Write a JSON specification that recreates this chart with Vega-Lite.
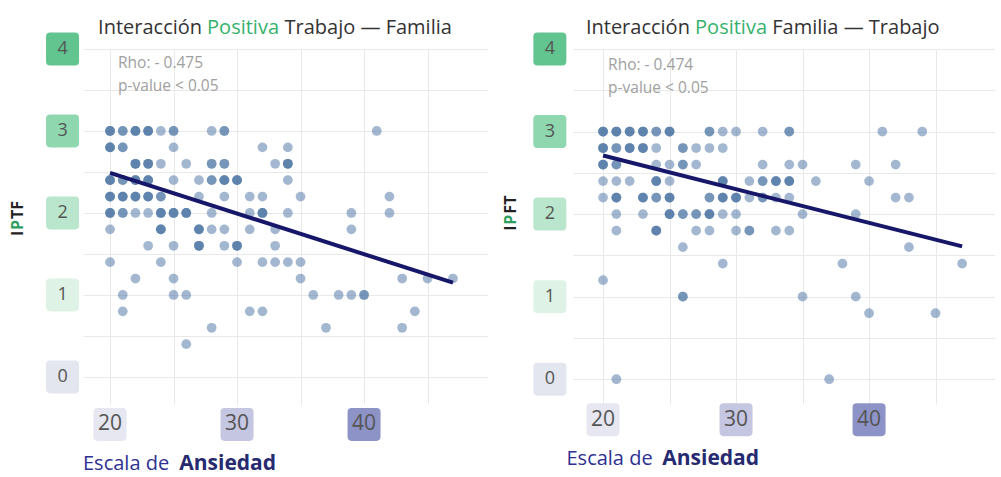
{
  "$schema": "https://vega.github.io/schema/vega-lite/v6.json",
  "background": "white",
  "padding": {"left": 10, "top": 17, "right": 0, "bottom": 10},
  "bounds": "flush",
  "spacing": 85,
  "config": {
    "view": {"stroke": null},
    "font": "Open Sans",
    "axis": {"gridColor": "#e9e9e9", "gridWidth": 1, "labels": false, "ticks": false, "domain": false, "grid": true}
  },
  "hconcat": [
    {
      "width": 405,
      "height": 355,
      "layer": [
        {
          "data": {"values": [
            {"x":20,"y":3},{"x":20,"y":3},{"x":20,"y":3},{"x":21,"y":3},{"x":21,"y":3},{"x":22,"y":3},{"x":22,"y":3},{"x":22,"y":3},{"x":23,"y":3},{"x":23,"y":3},{"x":23,"y":3},{"x":24,"y":3},{"x":25,"y":3},{"x":25,"y":3},{"x":28,"y":3},{"x":29,"y":3},{"x":29,"y":3},{"x":41,"y":3},
            {"x":20,"y":2.8},{"x":20,"y":2.8},{"x":20,"y":2.8},{"x":21,"y":2.8},{"x":21,"y":2.8},{"x":25,"y":2.8},{"x":32,"y":2.8},{"x":34,"y":2.8},
            {"x":22,"y":2.6},{"x":22,"y":2.6},{"x":22,"y":2.6},{"x":23,"y":2.6},{"x":23,"y":2.6},{"x":23,"y":2.6},{"x":24,"y":2.6},{"x":26,"y":2.6},{"x":28,"y":2.6},{"x":28,"y":2.6},{"x":29,"y":2.6},{"x":29,"y":2.6},{"x":33,"y":2.6},{"x":34,"y":2.6},{"x":34,"y":2.6},{"x":34,"y":2.6},
            {"x":20,"y":2.4},{"x":20,"y":2.4},{"x":20,"y":2.4},{"x":21,"y":2.4},{"x":21,"y":2.4},{"x":22,"y":2.4},{"x":22,"y":2.4},{"x":22,"y":2.4},{"x":23,"y":2.4},{"x":23,"y":2.4},{"x":23,"y":2.4},{"x":25,"y":2.4},{"x":27,"y":2.4},{"x":28,"y":2.4},{"x":28,"y":2.4},{"x":29,"y":2.4},{"x":29,"y":2.4},{"x":29,"y":2.4},{"x":30,"y":2.4},{"x":30,"y":2.4},{"x":30,"y":2.4},{"x":34,"y":2.4},
            {"x":20,"y":2.2},{"x":20,"y":2.2},{"x":20,"y":2.2},{"x":21,"y":2.2},{"x":21,"y":2.2},{"x":21,"y":2.2},{"x":22,"y":2.2},{"x":22,"y":2.2},{"x":22,"y":2.2},{"x":23,"y":2.2},{"x":23,"y":2.2},{"x":23,"y":2.2},{"x":24,"y":2.2},{"x":24,"y":2.2},{"x":27,"y":2.2},{"x":29,"y":2.2},{"x":31,"y":2.2},{"x":32,"y":2.2},{"x":35,"y":2.2},{"x":42,"y":2.2},
            {"x":20,"y":2},{"x":20,"y":2},{"x":20,"y":2},{"x":21,"y":2},{"x":21,"y":2},{"x":22,"y":2},{"x":23,"y":2},{"x":24,"y":2},{"x":24,"y":2},{"x":24,"y":2},{"x":25,"y":2},{"x":25,"y":2},{"x":25,"y":2},{"x":26,"y":2},{"x":26,"y":2},{"x":26,"y":2},{"x":28,"y":2},{"x":31,"y":2},{"x":32,"y":2},{"x":32,"y":2},{"x":32,"y":2},{"x":34,"y":2},{"x":39,"y":2},{"x":42,"y":2},
            {"x":20,"y":1.8},{"x":24,"y":1.8},{"x":24,"y":1.8},{"x":24,"y":1.8},{"x":27,"y":1.8},{"x":27,"y":1.8},{"x":27,"y":1.8},{"x":28,"y":1.8},{"x":29,"y":1.8},{"x":31,"y":1.8},{"x":33,"y":1.8},{"x":39,"y":1.8},
            {"x":23,"y":1.6},{"x":25,"y":1.6},{"x":27,"y":1.6},{"x":27,"y":1.6},{"x":27,"y":1.6},{"x":29,"y":1.6},{"x":30,"y":1.6},{"x":30,"y":1.6},{"x":30,"y":1.6},{"x":33,"y":1.6},
            {"x":20,"y":1.4},{"x":24,"y":1.4},{"x":30,"y":1.4},{"x":32,"y":1.4},{"x":33,"y":1.4},{"x":34,"y":1.4},{"x":35,"y":1.4},
            {"x":22,"y":1.2},{"x":25,"y":1.2},{"x":35,"y":1.2},{"x":43,"y":1.2},{"x":45,"y":1.2},{"x":47,"y":1.2},
            {"x":21,"y":1},{"x":25,"y":1},{"x":26,"y":1},{"x":36,"y":1},{"x":38,"y":1},{"x":39,"y":1},{"x":40,"y":1},{"x":40,"y":1},
            {"x":21,"y":0.8},{"x":31,"y":0.8},{"x":32,"y":0.8},{"x":44,"y":0.8},
            {"x":28,"y":0.6},{"x":37,"y":0.6},{"x":43,"y":0.6},
            {"x":26,"y":0.4}
          ]},
          "mark": {"type": "circle", "size": 95, "color": "#4771a1", "opacity": 0.5},
          "encoding": {
            "x": {"field": "x", "type": "quantitative", "scale": {"domain": [17.87, 49.76], "nice": false, "zero": false},
                  "axis": {"values": [20, 25, 30, 35, 40, 45], "title": null}},
            "y": {"field": "y", "type": "quantitative", "scale": {"domain": [-0.33, 4.0], "nice": false, "zero": false},
                  "axis": {"values": [0, 0.5, 1, 1.5, 2, 2.5, 3, 3.5, 4], "title": null}}
          }
        },
        {
          "data": {"values": [{"x": 20, "y": 2.49}, {"x": 47, "y": 1.15}]},
          "mark": {"type": "line", "color": "#17176a", "strokeWidth": 4},
          "encoding": {
            "x": {"field": "x", "type": "quantitative", "axis": {"values": [20, 25, 30, 35, 40, 45], "title": null}},
            "y": {"field": "y", "type": "quantitative", "axis": {"values": [0, 0.5, 1, 1.5, 2, 2.5, 3, 3.5, 4], "title": null}}
          }
        },
        {
          "data": {"values": [{"v": 0}, {"v": 1}, {"v": 2}, {"v": 3}, {"v": 4}]},
          "mark": {"type": "point", "shape": "M -0.75 -1 L 0.75 -1 Q 1 -1 1 -0.75 L 1 0.75 Q 1 1 0.75 1 L -0.75 1 Q -1 1 -1 0.75 L -1 -0.75 Q -1 -1 -0.75 -1 Z", "size": 1089, "filled": true, "opacity": 1, "strokeWidth": 0},
          "encoding": {
            "x": {"datum": 16.26, "type": "quantitative", "axis": {"values": [20, 25, 30, 35, 40, 45], "title": null}},
            "y": {"field": "v", "type": "quantitative", "axis": {"values": [0, 0.5, 1, 1.5, 2, 2.5, 3, 3.5, 4], "title": null}},
            "fill": {"field": "v", "type": "ordinal", "legend": null, "scale": {"domain": [0, 1, 2, 3, 4], "range": ["#e4e6ef", "#def3e6", "#b9e6cc", "#8fd7ae", "#62c48e"]}}
          }
        },
        {
          "data": {"values": [{"v": 0}, {"v": 1}, {"v": 2}, {"v": 3}, {"v": 4}]},
          "mark": {"type": "text", "fontSize": 18, "color": "#555555"},
          "encoding": {
            "x": {"datum": 16.26, "type": "quantitative", "axis": {"values": [20, 25, 30, 35, 40, 45], "title": null}},
            "y": {"field": "v", "type": "quantitative", "axis": {"values": [0, 0.5, 1, 1.5, 2, 2.5, 3, 3.5, 4], "title": null}},
            "text": {"field": "v", "type": "nominal"}
          }
        },
        {
          "data": {"values": [{"v": 20}, {"v": 30}, {"v": 40}]},
          "mark": {"type": "point", "shape": "M -0.75 -1 L 0.75 -1 Q 1 -1 1 -0.75 L 1 0.75 Q 1 1 0.75 1 L -0.75 1 Q -1 1 -1 0.75 L -1 -0.75 Q -1 -1 -0.75 -1 Z", "size": 1089, "filled": true, "opacity": 1, "strokeWidth": 0},
          "encoding": {
            "x": {"field": "v", "type": "quantitative", "axis": {"values": [20, 25, 30, 35, 40, 45], "title": null}},
            "y": {"datum": -0.58, "type": "quantitative", "axis": {"values": [0, 0.5, 1, 1.5, 2, 2.5, 3, 3.5, 4], "title": null}},
            "color": {"field": "v", "type": "ordinal", "legend": null, "scale": {"domain": [20, 30, 40], "range": ["#e6e7f0", "#c5c6e1", "#8e93c7"]}}
          }
        },
        {
          "data": {"values": [{"v": 20}, {"v": 30}, {"v": 40}]},
          "mark": {"type": "text", "fontSize": 21, "color": "#555555"},
          "encoding": {
            "x": {"field": "v", "type": "quantitative", "axis": {"values": [20, 25, 30, 35, 40, 45], "title": null}},
            "y": {"datum": -0.58, "type": "quantitative", "axis": {"values": [0, 0.5, 1, 1.5, 2, 2.5, 3, 3.5, 4], "title": null}},
            "text": {"field": "v", "type": "nominal"}
          }
        },
        {
          "data": {"values": [{}]},
          "mark": {"type": "text", "text": "Interacción", "fontSize": 20, "color": "#333333", "align": "left", "baseline": "middle"},
          "encoding": {"x": {"datum": 19.06, "type": "quantitative", "axis": {"values": [20, 25, 30, 35, 40, 45], "title": null}}, "y": {"datum": 4.256, "type": "quantitative", "axis": {"values": [0, 0.5, 1, 1.5, 2, 2.5, 3, 3.5, 4], "title": null}}}
        },
        {
          "data": {"values": [{}]},
          "mark": {"type": "text", "text": "Positiva", "fontSize": 20, "color": "#35b26c", "align": "left", "baseline": "middle"},
          "encoding": {"x": {"datum": 27.64, "type": "quantitative", "axis": {"values": [20, 25, 30, 35, 40, 45], "title": null}}, "y": {"datum": 4.256, "type": "quantitative", "axis": {"values": [0, 0.5, 1, 1.5, 2, 2.5, 3, 3.5, 4], "title": null}}}
        },
        {
          "data": {"values": [{}]},
          "mark": {"type": "text", "text": "Trabajo — Familia", "fontSize": 20, "color": "#333333", "align": "left", "baseline": "middle"},
          "encoding": {"x": {"datum": 33.74, "type": "quantitative", "axis": {"values": [20, 25, 30, 35, 40, 45], "title": null}}, "y": {"datum": 4.256, "type": "quantitative", "axis": {"values": [0, 0.5, 1, 1.5, 2, 2.5, 3, 3.5, 4], "title": null}}}
        },
        {
          "data": {"values": [{}]},
          "mark": {"type": "text", "text": "Rho: - 0.475", "fontSize": 15.5, "color": "#a0a0a0", "align": "left", "baseline": "middle"},
          "encoding": {"x": {"datum": 20.63, "type": "quantitative", "axis": {"values": [20, 25, 30, 35, 40, 45], "title": null}}, "y": {"datum": 3.83, "type": "quantitative", "axis": {"values": [0, 0.5, 1, 1.5, 2, 2.5, 3, 3.5, 4], "title": null}}}
        },
        {
          "data": {"values": [{}]},
          "mark": {"type": "text", "text": "p-value < 0.05", "fontSize": 15.5, "color": "#a0a0a0", "align": "left", "baseline": "middle"},
          "encoding": {"x": {"datum": 20.63, "type": "quantitative", "axis": {"values": [20, 25, 30, 35, 40, 45], "title": null}}, "y": {"datum": 3.55, "type": "quantitative", "axis": {"values": [0, 0.5, 1, 1.5, 2, 2.5, 3, 3.5, 4], "title": null}}}
        },
        {
          "data": {"values": [{}]},
          "mark": {"type": "text", "text": "I", "fontSize": 16, "fontWeight": "bold", "color": "#222222", "align": "left", "baseline": "middle", "angle": 270},
          "encoding": {"x": {"datum": 12.76, "type": "quantitative", "axis": {"values": [20, 25, 30, 35, 40, 45], "title": null}}, "y": {"datum": 1.72, "type": "quantitative", "axis": {"values": [0, 0.5, 1, 1.5, 2, 2.5, 3, 3.5, 4], "title": null}}}
        },
        {
          "data": {"values": [{}]},
          "mark": {"type": "text", "text": "P", "fontSize": 16, "fontWeight": "bold", "color": "#2e9e5e", "align": "left", "baseline": "middle", "angle": 270, "dx": 6},
          "encoding": {"x": {"datum": 12.76, "type": "quantitative", "axis": {"values": [20, 25, 30, 35, 40, 45], "title": null}}, "y": {"datum": 1.72, "type": "quantitative", "axis": {"values": [0, 0.5, 1, 1.5, 2, 2.5, 3, 3.5, 4], "title": null}}}
        },
        {
          "data": {"values": [{}]},
          "mark": {"type": "text", "text": "TF", "fontSize": 16, "fontWeight": "bold", "color": "#222222", "align": "left", "baseline": "middle", "angle": 270, "dx": 17},
          "encoding": {"x": {"datum": 12.76, "type": "quantitative", "axis": {"values": [20, 25, 30, 35, 40, 45], "title": null}}, "y": {"datum": 1.72, "type": "quantitative", "axis": {"values": [0, 0.5, 1, 1.5, 2, 2.5, 3, 3.5, 4], "title": null}}}
        },
        {
          "data": {"values": [{}]},
          "mark": {"type": "text", "text": "Escala de", "fontSize": 20, "color": "#2e3192", "align": "left", "baseline": "middle"},
          "encoding": {"x": {"datum": 17.87, "type": "quantitative", "axis": {"values": [20, 25, 30, 35, 40, 45], "title": null}}, "y": {"datum": -1.06, "type": "quantitative", "axis": {"values": [0, 0.5, 1, 1.5, 2, 2.5, 3, 3.5, 4], "title": null}}}
        },
        {
          "data": {"values": [{}]},
          "mark": {"type": "text", "text": "Ansiedad", "fontSize": 21, "fontWeight": "bold", "color": "#262a70", "align": "left", "baseline": "middle"},
          "encoding": {"x": {"datum": 25.45, "type": "quantitative", "axis": {"values": [20, 25, 30, 35, 40, 45], "title": null}}, "y": {"datum": -1.06, "type": "quantitative", "axis": {"values": [0, 0.5, 1, 1.5, 2, 2.5, 3, 3.5, 4], "title": null}}}
        }
      ]
    },
    {
      "width": 422,
      "height": 355,
      "layer": [
        {
          "data": {"values": [
            {"x":20,"y":3},{"x":20,"y":3},{"x":20,"y":3},{"x":21,"y":3},{"x":21,"y":3},{"x":21,"y":3},{"x":22,"y":3},{"x":22,"y":3},{"x":22,"y":3},{"x":23,"y":3},{"x":23,"y":3},{"x":23,"y":3},{"x":24,"y":3},{"x":24,"y":3},{"x":25,"y":3},{"x":25,"y":3},{"x":25,"y":3},{"x":28,"y":3},{"x":28,"y":3},{"x":29,"y":3},{"x":30,"y":3},{"x":32,"y":3},{"x":34,"y":3},{"x":34,"y":3},{"x":41,"y":3},{"x":44,"y":3},
            {"x":20,"y":2.8},{"x":20,"y":2.8},{"x":20,"y":2.8},{"x":21,"y":2.8},{"x":21,"y":2.8},{"x":22,"y":2.8},{"x":22,"y":2.8},{"x":22,"y":2.8},{"x":23,"y":2.8},{"x":23,"y":2.8},{"x":23,"y":2.8},{"x":24,"y":2.8},{"x":26,"y":2.8},{"x":26,"y":2.8},{"x":27,"y":2.8},{"x":28,"y":2.8},{"x":29,"y":2.8},
            {"x":20,"y":2.6},{"x":20,"y":2.6},{"x":20,"y":2.6},{"x":21,"y":2.6},{"x":21,"y":2.6},{"x":24,"y":2.6},{"x":25,"y":2.6},{"x":26,"y":2.6},{"x":26,"y":2.6},{"x":27,"y":2.6},{"x":32,"y":2.6},{"x":34,"y":2.6},{"x":35,"y":2.6},{"x":39,"y":2.6},{"x":42,"y":2.6},
            {"x":20,"y":2.4},{"x":21,"y":2.4},{"x":22,"y":2.4},{"x":24,"y":2.4},{"x":24,"y":2.4},{"x":24,"y":2.4},{"x":25,"y":2.4},{"x":29,"y":2.4},{"x":29,"y":2.4},{"x":29,"y":2.4},{"x":31,"y":2.4},{"x":32,"y":2.4},{"x":32,"y":2.4},{"x":33,"y":2.4},{"x":33,"y":2.4},{"x":33,"y":2.4},{"x":34,"y":2.4},{"x":34,"y":2.4},{"x":34,"y":2.4},{"x":36,"y":2.4},{"x":40,"y":2.4},
            {"x":20,"y":2.2},{"x":21,"y":2.2},{"x":21,"y":2.2},{"x":21,"y":2.2},{"x":23,"y":2.2},{"x":23,"y":2.2},{"x":23,"y":2.2},{"x":24,"y":2.2},{"x":24,"y":2.2},{"x":25,"y":2.2},{"x":25,"y":2.2},{"x":25,"y":2.2},{"x":28,"y":2.2},{"x":28,"y":2.2},{"x":29,"y":2.2},{"x":29,"y":2.2},{"x":29,"y":2.2},{"x":30,"y":2.2},{"x":30,"y":2.2},{"x":30,"y":2.2},{"x":31,"y":2.2},{"x":32,"y":2.2},{"x":32,"y":2.2},{"x":33,"y":2.2},{"x":34,"y":2.2},{"x":42,"y":2.2},{"x":43,"y":2.2},
            {"x":21,"y":2},{"x":23,"y":2},{"x":25,"y":2},{"x":25,"y":2},{"x":25,"y":2},{"x":26,"y":2},{"x":26,"y":2},{"x":27,"y":2},{"x":27,"y":2},{"x":28,"y":2},{"x":28,"y":2},{"x":28,"y":2},{"x":29,"y":2},{"x":30,"y":2},{"x":35,"y":2},{"x":39,"y":2},
            {"x":21,"y":1.8},{"x":24,"y":1.8},{"x":24,"y":1.8},{"x":24,"y":1.8},{"x":27,"y":1.8},{"x":28,"y":1.8},{"x":30,"y":1.8},{"x":31,"y":1.8},{"x":31,"y":1.8},{"x":33,"y":1.8},{"x":34,"y":1.8},
            {"x":26,"y":1.6},{"x":43,"y":1.6},
            {"x":29,"y":1.4},{"x":38,"y":1.4},{"x":47,"y":1.4},
            {"x":20,"y":1.2},
            {"x":26,"y":1},{"x":26,"y":1},{"x":35,"y":1},{"x":39,"y":1},
            {"x":40,"y":0.8},{"x":45,"y":0.8},
            {"x":21,"y":0},{"x":37,"y":0}
          ]},
          "mark": {"type": "circle", "size": 95, "color": "#4771a1", "opacity": 0.5},
          "encoding": {
            "x": {"field": "x", "type": "quantitative", "scale": {"domain": [17.74, 49.47], "nice": false, "zero": false},
                  "axis": {"values": [20, 25, 30, 35, 40, 45], "title": null}},
            "y": {"field": "y", "type": "quantitative", "scale": {"domain": [-0.3, 4.0], "nice": false, "zero": false},
                  "axis": {"values": [0, 0.5, 1, 1.5, 2, 2.5, 3, 3.5, 4], "title": null}}
          }
        },
        {
          "data": {"values": [{"x": 20, "y": 2.71}, {"x": 47, "y": 1.61}]},
          "mark": {"type": "line", "color": "#17176a", "strokeWidth": 4},
          "encoding": {
            "x": {"field": "x", "type": "quantitative", "axis": {"values": [20, 25, 30, 35, 40, 45], "title": null}},
            "y": {"field": "y", "type": "quantitative", "axis": {"values": [0, 0.5, 1, 1.5, 2, 2.5, 3, 3.5, 4], "title": null}}
          }
        },
        {
          "data": {"values": [{"v": 0}, {"v": 1}, {"v": 2}, {"v": 3}, {"v": 4}]},
          "mark": {"type": "point", "shape": "M -0.75 -1 L 0.75 -1 Q 1 -1 1 -0.75 L 1 0.75 Q 1 1 0.75 1 L -0.75 1 Q -1 1 -1 0.75 L -1 -0.75 Q -1 -1 -0.75 -1 Z", "size": 1089, "filled": true, "opacity": 1, "strokeWidth": 0},
          "encoding": {
            "x": {"datum": 16.0, "type": "quantitative", "axis": {"values": [20, 25, 30, 35, 40, 45], "title": null}},
            "y": {"field": "v", "type": "quantitative", "axis": {"values": [0, 0.5, 1, 1.5, 2, 2.5, 3, 3.5, 4], "title": null}},
            "fill": {"field": "v", "type": "ordinal", "legend": null, "scale": {"domain": [0, 1, 2, 3, 4], "range": ["#e4e6ef", "#def3e6", "#b9e6cc", "#8fd7ae", "#62c48e"]}}
          }
        },
        {
          "data": {"values": [{"v": 0}, {"v": 1}, {"v": 2}, {"v": 3}, {"v": 4}]},
          "mark": {"type": "text", "fontSize": 18, "color": "#555555"},
          "encoding": {
            "x": {"datum": 16.0, "type": "quantitative", "axis": {"values": [20, 25, 30, 35, 40, 45], "title": null}},
            "y": {"field": "v", "type": "quantitative", "axis": {"values": [0, 0.5, 1, 1.5, 2, 2.5, 3, 3.5, 4], "title": null}},
            "text": {"field": "v", "type": "nominal"}
          }
        },
        {
          "data": {"values": [{"v": 20}, {"v": 30}, {"v": 40}]},
          "mark": {"type": "point", "shape": "M -0.75 -1 L 0.75 -1 Q 1 -1 1 -0.75 L 1 0.75 Q 1 1 0.75 1 L -0.75 1 Q -1 1 -1 0.75 L -1 -0.75 Q -1 -1 -0.75 -1 Z", "size": 1089, "filled": true, "opacity": 1, "strokeWidth": 0},
          "encoding": {
            "x": {"field": "v", "type": "quantitative", "axis": {"values": [20, 25, 30, 35, 40, 45], "title": null}},
            "y": {"datum": -0.49, "type": "quantitative", "axis": {"values": [0, 0.5, 1, 1.5, 2, 2.5, 3, 3.5, 4], "title": null}},
            "color": {"field": "v", "type": "ordinal", "legend": null, "scale": {"domain": [20, 30, 40], "range": ["#e6e7f0", "#c5c6e1", "#8e93c7"]}}
          }
        },
        {
          "data": {"values": [{"v": 20}, {"v": 30}, {"v": 40}]},
          "mark": {"type": "text", "fontSize": 21, "color": "#555555"},
          "encoding": {
            "x": {"field": "v", "type": "quantitative", "axis": {"values": [20, 25, 30, 35, 40, 45], "title": null}},
            "y": {"datum": -0.49, "type": "quantitative", "axis": {"values": [0, 0.5, 1, 1.5, 2, 2.5, 3, 3.5, 4], "title": null}},
            "text": {"field": "v", "type": "nominal"}
          }
        },
        {
          "data": {"values": [{}]},
          "mark": {"type": "text", "text": "Interacción", "fontSize": 20, "color": "#333333", "align": "left", "baseline": "middle"},
          "encoding": {"x": {"datum": 18.71, "type": "quantitative", "axis": {"values": [20, 25, 30, 35, 40, 45], "title": null}}, "y": {"datum": 4.26, "type": "quantitative", "axis": {"values": [0, 0.5, 1, 1.5, 2, 2.5, 3, 3.5, 4], "title": null}}}
        },
        {
          "data": {"values": [{}]},
          "mark": {"type": "text", "text": "Positiva", "fontSize": 20, "color": "#35b26c", "align": "left", "baseline": "middle"},
          "encoding": {"x": {"datum": 26.92, "type": "quantitative", "axis": {"values": [20, 25, 30, 35, 40, 45], "title": null}}, "y": {"datum": 4.26, "type": "quantitative", "axis": {"values": [0, 0.5, 1, 1.5, 2, 2.5, 3, 3.5, 4], "title": null}}}
        },
        {
          "data": {"values": [{}]},
          "mark": {"type": "text", "text": "Familia — Trabajo", "fontSize": 20, "color": "#333333", "align": "left", "baseline": "middle"},
          "encoding": {"x": {"datum": 32.72, "type": "quantitative", "axis": {"values": [20, 25, 30, 35, 40, 45], "title": null}}, "y": {"datum": 4.26, "type": "quantitative", "axis": {"values": [0, 0.5, 1, 1.5, 2, 2.5, 3, 3.5, 4], "title": null}}}
        },
        {
          "data": {"values": [{}]},
          "mark": {"type": "text", "text": "Rho: - 0.474", "fontSize": 15.5, "color": "#a0a0a0", "align": "left", "baseline": "middle"},
          "encoding": {"x": {"datum": 20.38, "type": "quantitative", "axis": {"values": [20, 25, 30, 35, 40, 45], "title": null}}, "y": {"datum": 3.81, "type": "quantitative", "axis": {"values": [0, 0.5, 1, 1.5, 2, 2.5, 3, 3.5, 4], "title": null}}}
        },
        {
          "data": {"values": [{}]},
          "mark": {"type": "text", "text": "p-value < 0.05", "fontSize": 15.5, "color": "#a0a0a0", "align": "left", "baseline": "middle"},
          "encoding": {"x": {"datum": 20.38, "type": "quantitative", "axis": {"values": [20, 25, 30, 35, 40, 45], "title": null}}, "y": {"datum": 3.53, "type": "quantitative", "axis": {"values": [0, 0.5, 1, 1.5, 2, 2.5, 3, 3.5, 4], "title": null}}}
        },
        {
          "data": {"values": [{}]},
          "mark": {"type": "text", "text": "I", "fontSize": 16, "fontWeight": "bold", "color": "#222222", "align": "left", "baseline": "middle", "angle": 270},
          "encoding": {"x": {"datum": 13.1, "type": "quantitative", "axis": {"values": [20, 25, 30, 35, 40, 45], "title": null}}, "y": {"datum": 1.8, "type": "quantitative", "axis": {"values": [0, 0.5, 1, 1.5, 2, 2.5, 3, 3.5, 4], "title": null}}}
        },
        {
          "data": {"values": [{}]},
          "mark": {"type": "text", "text": "P", "fontSize": 16, "fontWeight": "bold", "color": "#2e9e5e", "align": "left", "baseline": "middle", "angle": 270, "dx": 6},
          "encoding": {"x": {"datum": 13.1, "type": "quantitative", "axis": {"values": [20, 25, 30, 35, 40, 45], "title": null}}, "y": {"datum": 1.8, "type": "quantitative", "axis": {"values": [0, 0.5, 1, 1.5, 2, 2.5, 3, 3.5, 4], "title": null}}}
        },
        {
          "data": {"values": [{}]},
          "mark": {"type": "text", "text": "FT", "fontSize": 16, "fontWeight": "bold", "color": "#222222", "align": "left", "baseline": "middle", "angle": 270, "dx": 17},
          "encoding": {"x": {"datum": 13.1, "type": "quantitative", "axis": {"values": [20, 25, 30, 35, 40, 45], "title": null}}, "y": {"datum": 1.8, "type": "quantitative", "axis": {"values": [0, 0.5, 1, 1.5, 2, 2.5, 3, 3.5, 4], "title": null}}}
        },
        {
          "data": {"values": [{}]},
          "mark": {"type": "text", "text": "Escala de", "fontSize": 20, "color": "#2e3192", "align": "left", "baseline": "middle"},
          "encoding": {"x": {"datum": 17.25, "type": "quantitative", "axis": {"values": [20, 25, 30, 35, 40, 45], "title": null}}, "y": {"datum": -0.97, "type": "quantitative", "axis": {"values": [0, 0.5, 1, 1.5, 2, 2.5, 3, 3.5, 4], "title": null}}}
        },
        {
          "data": {"values": [{}]},
          "mark": {"type": "text", "text": "Ansiedad", "fontSize": 21, "fontWeight": "bold", "color": "#262a70", "align": "left", "baseline": "middle"},
          "encoding": {"x": {"datum": 24.45, "type": "quantitative", "axis": {"values": [20, 25, 30, 35, 40, 45], "title": null}}, "y": {"datum": -0.97, "type": "quantitative", "axis": {"values": [0, 0.5, 1, 1.5, 2, 2.5, 3, 3.5, 4], "title": null}}}
        }
      ]
    }
  ]
}
